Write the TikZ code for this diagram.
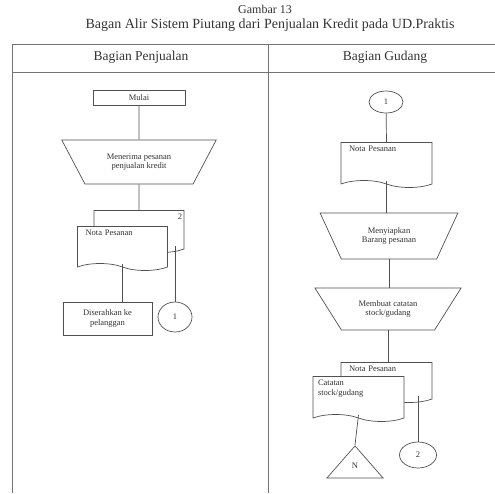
\documentclass[tikz,border=0pt]{standalone}
\usepackage{fontspec}
\setmainfont{Liberation Serif}
\usetikzlibrary{shapes.geometric,shapes.symbols}
\definecolor{ink}{HTML}{505050}
\newcommand\nfs{\fontsize{8.5}{9.5}\selectfont}
\begin{document}
\begin{tikzpicture}[x=1pt,y=-1pt,
  every node/.style={text=black!80},
  frame/.style={draw=ink!80, line width=0.8pt},
  base/.style={draw=ink, line width=0.7pt, fill=white, font=\nfs, inner sep=2pt},
  proc/.style={base, rectangle, align=center},
  manual/.style={base, trapezium, shape border rotate=180, trapezium stretches=true, align=center},
  docu/.style={base, tape, tape bend top=none, tape bend bottom=out and in, tape bend height=7pt, align=left, text height=7pt},
  conn/.style={base, ellipse, inner sep=0pt},
  link/.style={draw=ink, line width=0.7pt}
]
\useasboundingbox (0,0) rectangle (495,493);
% title
\node[font=\fontsize{12}{13}\selectfont, inner sep=0pt] (t1) at (265,9) {Gambar 13};
\node[font=\fontsize{14}{15}\selectfont, inner sep=0pt] (t2) at (270,25) {Bagan Alir Sistem Piutang dari Penjualan Kredit pada UD.Praktis};
% frame
\draw[frame] (12,44) -- (495,44);
\draw[frame] (12,72) -- (495,72);
\draw[frame] (12,44) -- (12,493);
\draw[frame] (268,44) -- (268,493);
\node[font=\fontsize{13.5}{15}\selectfont] (h1) at (141,57) {Bagian Penjualan};
\node[font=\fontsize{13.5}{15}\selectfont] (h2) at (385,57) {Bagian Gudang};
% left column
\node[proc, minimum width=92pt, minimum height=15pt] (mulai) at (139,97.5) {Mulai};
\node[manual, minimum width=155pt, minimum height=44pt, trapezium left angle=55, trapezium right angle=55] (m1) at (139,162) {Menerima pesanan\\penjualan kredit};
\node[docu, text width=86pt, align=right, minimum height=42pt, text depth=24pt] (bd1) at (139,228) {2};
\node[docu, text width=86pt, minimum height=44pt, text depth=26pt] (fd1) at (122.5,245) {\hspace*{6pt}Nota Pesanan};
\node[proc, minimum width=89pt, minimum height=33pt] (serah) at (107.5,318.5) {Diserahkan ke\\pelanggan};
\node[conn, minimum width=34pt, minimum height=30pt] (c1) at (175,317) {1};
\draw[link] (mulai) -- (m1);
\draw[link] (m1.south) -- (bd1.north);
\draw[link] (fd1.south) -- (fd1.south |- serah.north);
\draw[link] (c1.north |- bd1.south east) -- (c1.north);
% right column
\node[conn, minimum width=34pt, minimum height=22pt] (c2) at (386,102) {1};
\node[docu, text width=87pt, minimum height=45pt, text depth=27pt] (d2) at (386.5,161.5) {\hspace*{6pt}Nota Pesanan};
\node[manual, minimum width=138pt, minimum height=46pt, trapezium left angle=58.7, trapezium right angle=58.7] (m2) at (389,236) {Menyiapkan\\Barang pesanan};
\node[manual, minimum width=147pt, minimum height=42pt, trapezium left angle=50, trapezium right angle=50] (m3) at (388,309) {Membuat catatan\\stock/gudang};
\node[docu, text width=87pt, minimum height=40pt, text depth=22pt] (bd3) at (386.5,379) {\hspace*{6pt}Nota Pesanan};
\node[docu, text width=87pt, minimum height=45pt, text depth=27pt] (fd3) at (358.5,395.5) {\hspace*{3pt}Catatan\\\hspace*{3pt}stock/gudang};
\node[base, isosceles triangle, shape border rotate=90, isosceles triangle stretches=true, minimum width=56pt, minimum height=32pt, inner sep=0pt, anchor=apex] (tri) at (355,445) {};
\node[font=\nfs] (triN) at (355,466) {N};
\node[conn, minimum width=37pt, minimum height=26pt] (c3) at (418,455) {2};
\draw[link] (c2) -- (d2.north);
\draw[link] (d2.south) -- (d2.south |- m2.north);
\draw[link] (m2.south) -- (m2.south |- m3.north);
\draw[link] (m3.south) -- (m3.south |- bd3.north);
\draw[link] (fd3.south) -- (tri.apex);
\draw[link] (c3.north |- bd3.south east) -- (c3.north);
\end{tikzpicture}
\end{document}
